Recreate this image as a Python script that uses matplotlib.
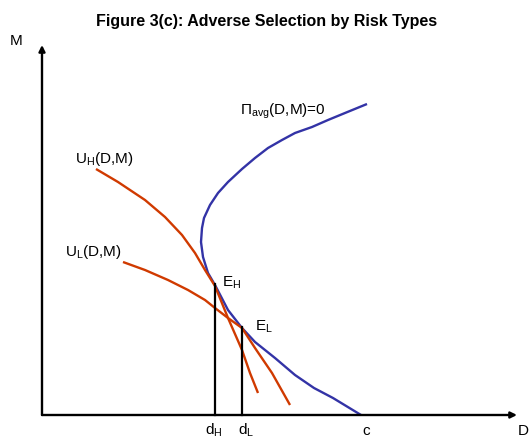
import matplotlib
matplotlib.use("Agg")
import matplotlib.pyplot as plt

plt.rcParams['font.family'] = ['Liberation Sans', 'DejaVu Sans']
plt.rcParams['mathtext.fontset'] = 'custom'
plt.rcParams['mathtext.rm'] = 'Liberation Sans'
plt.rcParams['mathtext.it'] = 'Liberation Sans:italic'

# zero profit curve Pi_avg(D,M)=0
pi_D = [31.9, 29.1, 27.2, 25.3, 23.3, 21.3, 20.0, 18.6, 17.3, 16.6, 16.1, 15.9, 16.0, 16.2,
        16.8, 17.6, 18.6, 20.0, 21.3, 22.6, 24.0, 25.3, 27.0, 28.6, 30.3, 32.5]
pi_M = [0.0, 1.7, 2.7, 4.0, 5.7, 7.3, 8.7, 10.5, 13.0, 14.2, 15.8, 17.3, 18.7, 19.7,
        21.0, 22.2, 23.3, 24.6, 25.7, 26.7, 27.5, 28.2, 28.8, 29.5, 30.2, 31.1]

# indifference curves of the high and low risk types
uh_D = [5.4, 7.6, 10.3, 12.3, 14.0, 15.3, 16.3, 17.3, 18.6, 20.0, 20.8, 21.6]
uh_M = [24.6, 23.3, 21.5, 19.8, 18.0, 16.2, 14.5, 12.9, 9.7, 6.5, 4.2, 2.2]
ul_D = [8.1, 10.3, 12.6, 14.6, 16.3, 17.3, 18.6, 20.0, 21.3, 23.0, 24.8]
ul_M = [15.3, 14.5, 13.5, 12.5, 11.5, 10.7, 9.7, 8.7, 6.7, 4.2, 1.0]

# equilibrium points
eq_D = [17.3, 20.0]
eq_M = [13.1, 8.8]
c_val = 31.9

blue = '#3333a6'
red = '#d03a00'

fig = plt.figure(figsize=(5.29, 4.4), dpi=100)
ax = fig.add_axes([0, 0, 1, 1])
ax.set_xlim(-4.2, 48.7)
ax.set_ylim(-2.5, 41.5)
ax.axis('off')

# axes with arrows
ax.annotate('', xy=(47.5, 0), xytext=(0, 0),
            arrowprops=dict(arrowstyle='-|>', color='black', lw=1.7, mutation_scale=9, shrinkA=0, shrinkB=0))
ax.annotate('', xy=(0, 37.0), xytext=(0, 0),
            arrowprops=dict(arrowstyle='-|>', color='black', lw=1.7, mutation_scale=9, shrinkA=0, shrinkB=0))

ax.plot(pi_D, pi_M, color=blue, lw=1.7, solid_capstyle='butt', solid_joinstyle='round')
ax.plot(uh_D, uh_M, color=red, lw=1.7, solid_capstyle='butt', solid_joinstyle='round')
ax.plot(ul_D, ul_M, color=red, lw=1.7, solid_capstyle='butt', solid_joinstyle='round')

for i in range(len(eq_D)):
    ax.plot([eq_D[i], eq_D[i]], [0, eq_M[i]], color='black', lw=1.6)

fs = 11
ax.text(22.5, 38.9, 'Figure 3(c): Adverse Selection by Risk Types', fontsize=11.5,
        fontweight='bold', ha='center', va='baseline')
ax.text(-3.2, 37.0, 'M', fontsize=fs, ha='left', va='baseline')
ax.text(47.6, -2.0, 'D', fontsize=fs, ha='left', va='baseline')
ax.text(16.3, -2.0, r'd$_\mathregular{H}$', fontsize=fs, ha='left', va='baseline')
ax.text(19.6, -2.0, r'd$_\mathregular{L}$', fontsize=fs, ha='left', va='baseline')
ax.text(c_val + 0.5, -2.0, 'c', fontsize=fs, ha='center', va='baseline')
ax.text(3.3, 25.2, r'U$_\mathregular{H}$(D,M)', fontsize=fs, ha='left', va='baseline')
ax.text(2.3, 15.9, r'U$_\mathregular{L}$(D,M)', fontsize=fs, ha='left', va='baseline')
ax.text(19.8, 30.0, r'$\Pi_\mathregular{avg}$(D,M)=0', fontsize=fs, ha='left', va='baseline')
ax.text(18.0, 12.8, r'E$_\mathregular{H}$', fontsize=fs, ha='left', va='baseline')
ax.text(21.3, 8.4, r'E$_\mathregular{L}$', fontsize=fs, ha='left', va='baseline')

fig.savefig('out.png', dpi=100)
